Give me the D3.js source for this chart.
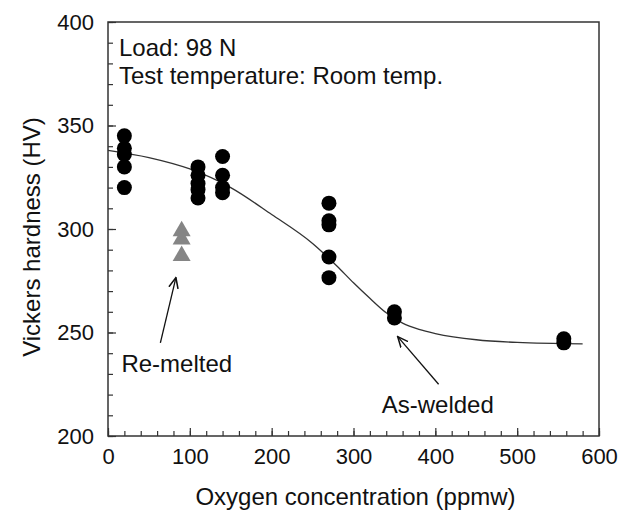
<!DOCTYPE html>
<html>
<head>
<meta charset="utf-8">
<script src="https://cdn.jsdelivr.net/npm/d3@7"></script>
<style>
  body { margin: 0; background: #fff; }
  svg text { font-family: "Liberation Sans", Arial, sans-serif; fill: #111; }
</style>
</head>
<body>
<div id="chart"></div>
<script>
// data
const asWeldedX = [20, 20, 20, 20, 20, 110, 110, 110, 110, 110, 140, 140, 140, 140, 270, 270, 270, 270, 270, 350, 350, 557, 557];
const asWeldedY = [345, 339, 336, 330, 320, 330, 326, 322, 319, 315, 335, 326, 320, 317.5, 312.5, 304, 302, 286.5, 276.5, 260, 257, 247, 245];
const remeltedX = [90, 90, 90];
const remeltedY = [299, 295, 287];
// fitted curve
const fitX = [0, 50, 100, 150, 200, 250, 280, 300, 320, 340, 360, 380, 400, 450, 500, 580];
const fitY = [338, 334.5, 329, 320, 307, 293, 282, 274, 266.5, 259.5, 254.5, 251.5, 249.5, 246.5, 245.2, 244.5];
const xTicks = [0, 100, 200, 300, 400, 500, 600];
const yTicks = [200, 250, 300, 350, 400];

const W = 621, H = 511;
const margin = { left: 108, top: 22, right: 22, bottom: 75 };
const width = W - margin.left - margin.right;
const height = H - margin.top - margin.bottom;

const svg = d3.select("#chart").append("svg")
  .attr("width", W).attr("height", H);
const g = svg.append("g").attr("transform", `translate(${margin.left},${margin.top})`);

const x = d3.scaleLinear().domain([0, 600]).range([0, width]);
const y = d3.scaleLinear().domain([200, 400]).range([height, 0]);

// inward ticks: minor first, then major with labels
g.append("g").attr("transform", `translate(0,${height})`)
  .call(d3.axisBottom(x).ticks(30).tickSize(-5).tickFormat(""))
  .call(a => a.select(".domain").remove());
g.append("g").attr("transform", `translate(0,${height})`)
  .call(d3.axisBottom(x).tickValues(xTicks).tickSize(-8).tickPadding(12))
  .call(a => a.select(".domain").remove())
  .selectAll("text").style("font-size", "22px");

g.append("g")
  .call(d3.axisLeft(y).ticks(20).tickSize(-5).tickFormat(""))
  .call(a => a.select(".domain").remove());
g.append("g")
  .call(d3.axisLeft(y).tickValues(yTicks).tickSize(-8).tickPadding(14))
  .call(a => a.select(".domain").remove())
  .selectAll("text").style("font-size", "22px");

g.selectAll(".tick line").attr("stroke", "#333").attr("stroke-width", 1.2);

// frame
g.append("rect").attr("width", width).attr("height", height)
  .attr("fill", "none").attr("stroke", "#333").attr("stroke-width", 1.5);

// axis titles
svg.append("text")
  .attr("x", margin.left + width / 2 + 2).attr("y", 505)
  .attr("text-anchor", "middle").style("font-size", "24px")
  .text("Oxygen concentration (ppmw)");
svg.append("text")
  .attr("transform", `translate(40,${margin.top + height / 2 + 8}) rotate(-90)`)
  .attr("text-anchor", "middle").style("font-size", "24px")
  .text("Vickers hardness (HV)");

// fit curve
const fit = fitX.map((v, i) => [v, fitY[i]]);
g.append("path").datum(fit)
  .attr("fill", "none").attr("stroke", "#333").attr("stroke-width", 1.3)
  .attr("d", d3.line().x(d => x(d[0])).y(d => y(d[1])).curve(d3.curveMonotoneX));

// as-welded points
g.selectAll("circle.aw").data(asWeldedX.map((v, i) => [v, asWeldedY[i]]))
  .join("circle").attr("class", "aw")
  .attr("cx", d => x(d[0])).attr("cy", d => y(d[1]))
  .attr("r", 7.5).attr("fill", "#000");

// re-melted points
g.selectAll("path.rm").data(remeltedX.map((v, i) => [v, remeltedY[i]]))
  .join("path").attr("class", "rm")
  .attr("transform", d => `translate(${x(d[0])},${y(d[1])})`)
  .attr("d", d3.symbol(d3.symbolTriangle, 140))
  .attr("fill", "#858585");

// notes
const note = g.append("g").style("font-size", "24px");
note.append("text").attr("x", 11).attr("y", 34).text("Load: 98 N");
note.append("text").attr("x", 11).attr("y", 62).text("Test temperature: Room temp.");

// annotations with arrows
svg.append("defs").append("marker")
  .attr("id", "head").attr("viewBox", "0 0 10 10")
  .attr("refX", 9).attr("refY", 5)
  .attr("markerWidth", 9).attr("markerHeight", 9)
  .attr("orient", "auto")
  .append("path").attr("d", "M0,1 L9,5 L0,9").attr("fill", "none").attr("stroke", "#111").attr("stroke-width", 1.3);

function annotate(label, tx, ty, fromX, fromY, toX, toY) {
  g.append("text").attr("x", x(tx)).attr("y", y(ty))
    .attr("text-anchor", "middle").style("font-size", "24px").text(label);
  g.append("line")
    .attr("x1", x(fromX)).attr("y1", y(fromY))
    .attr("x2", x(toX)).attr("y2", y(toY))
    .attr("stroke", "#111").attr("stroke-width", 1.3)
    .attr("marker-end", "url(#head)");
}
annotate("Re-melted", 84, 231, 64, 245, 83, 276.5);
annotate("As-welded", 403, 211, 404, 225, 354, 248);
</script>
</body>
</html>
